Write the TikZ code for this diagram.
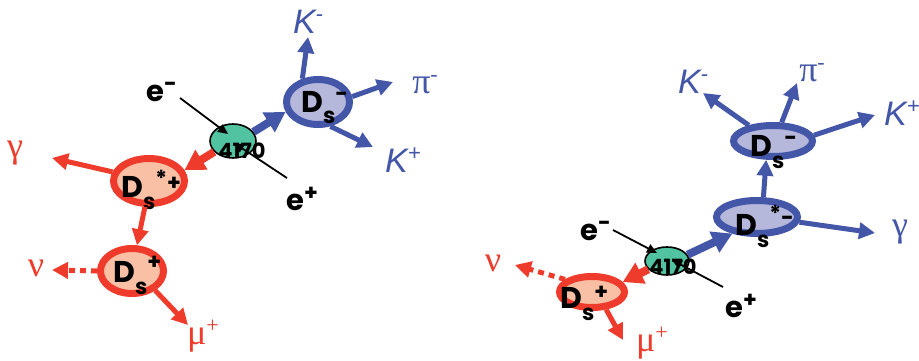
\documentclass[tikz,border=0pt]{standalone}
\usepackage{fontspec}
\setmainfont{Liberation Sans}
\newfontfamily\grk{Liberation Serif}
\newfontfamily\cmc{Poppins}
\usetikzlibrary{shapes.geometric,arrows.meta}
\definecolor{myblue}{RGB}{67,86,168}
\definecolor{lav}{RGB}{181,183,219}
\definecolor{myred}{RGB}{238,59,43}
\definecolor{salmon}{RGB}{249,192,166}
\definecolor{tealg}{RGB}{82,195,161}
\newcommand{\smallf}{\fontsize{22}{22}\selectfont}
\newcommand{\Dsl}[1]{D\raisebox{-12pt}{\smallf s}#1}
\newcommand{\up}[2]{\raisebox{#1pt}{\smallf #2}}
\begin{document}
\begin{tikzpicture}[x=1pt,y=-1pt,
  bel/.style={ellipse,draw=myblue,fill=lav,line width=7pt,inner sep=0pt},
  rel/.style={ellipse,draw=myred,fill=salmon,line width=7pt,inner sep=0pt},
  gre/.style={ellipse,draw=black,fill=tealg,line width=1.6pt,inner sep=0pt},
  dtxt/.style={font=\cmc\fontsize{30}{30}\selectfont\bfseries,inner sep=0pt,anchor=base west},
  etxt/.style={font=\cmc\fontsize{29}{29}\selectfont\bfseries,inner sep=0pt,anchor=base west},
  ntxt/.style={font=\cmc\fontsize{21}{21}\selectfont\bfseries,inner sep=0pt},
  ktxt/.style={font=\fontsize{34}{34}\selectfont\itshape,text=myblue,inner sep=0pt},
  gtxt/.style={font=\grk\fontsize{36}{36}\selectfont,inner sep=0pt},
  barr/.style={draw=myblue,line width=5pt,-{Triangle[length=16pt,width=16pt]}},
  bbig/.style={draw=myblue,line width=8pt,-{Triangle[length=20pt,width=22pt]}},
  rarr/.style={draw=myred,line width=5pt,-{Triangle[length=16pt,width=16pt]}},
  rbig/.style={draw=myred,line width=8pt,-{Triangle[length=20pt,width=22pt]}},
  rdash/.style={draw=myred,line width=5pt,dash pattern=on 6pt off 5pt,-{Triangle[length=16pt,width=16pt]}},
  earr/.style={draw=black,line width=1.8pt,-{Triangle[length=10pt,width=9pt]}}
]
\useasboundingbox (0,0) rectangle (919,361);

% ---------------- left diagram ----------------
\node[gre,minimum width=46pt,minimum height=34pt] (gL) at (233,141) {};
\node[ntxt] (nL) at (242,151) {4170};
\node[bel,minimum width=63pt,minimum height=45pt] (DsmL) at (318,102) {};
\node[rel,minimum width=71pt,minimum height=45pt] (DssL) at (149,181) {};
\node[rel,minimum width=63pt,minimum height=45pt] (DspL) at (132,271) {};

\node[dtxt] (tDsmL) at (301,112) {\Dsl{\up{10}{-}}};
\node[dtxt] (tDssL) at (121,197) {\Dsl{\up{11}{*}\up{7}{+}}};
\node[dtxt] (tDspL) at (113,282) {\Dsl{\up{13}{+}}};

\node[etxt] (emL) at (146,102) {e\up{10}{-}};
\node[etxt] (epL) at (286,210) {e\up{10}{+}};

\node[ktxt] (KmL) at (308,22) {K\up{12}{-}};
\node[gtxt,text=myblue] (piL) at (425,85) {π\up{12}{-}};
\node[ktxt] (KpL) at (403,160) {K\up{12}{+}};
\node[gtxt,text=myred] (gaL) at (15,153) {γ};
\node[gtxt,text=myred] (nuL) at (36,268) {ν};
\node[gtxt,text=myred] (muL) at (203,336) {μ\up{12}{+}};

\coordinate (cKmL) at (308,37);
\coordinate (cpiL) at (393,82);
\coordinate (cKpL) at (373,147);
\coordinate (cgaL) at (52,158);
\coordinate (cnuL) at (52,270);
\coordinate (cmuL) at (188,325);
\coordinate (e1aL) at (180,98);
\coordinate (e1bL) at (228,134);
\coordinate (e2aL) at (287,178);
\coordinate (e2bL) at (234,143);

\draw[bbig] (gL.24) -- (DsmL.197);
\draw[rbig] (gL.210) -- (DssL.17);
\draw[barr] (DsmL.124) -- (cKmL);
\draw[barr] (DsmL.9) -- (cpiL);
\draw[barr] (DsmL.-63) -- (cKpL);
\draw[rarr] (DssL.166) -- (cgaL);
\draw[rarr] (DssL.-99) -- (DspL.79);
\draw[rdash] (DspL.180) -- (cnuL);
\draw[rarr] (DspL.-40) -- (cmuL);
\draw[earr] (e1aL) -- (e1bL);
\draw[earr] (e2aL) -- (e2bL);

% ---------------- right diagram ----------------
\node[gre,minimum width=44pt,minimum height=28pt] (gR) at (667,261) {};
\node[ntxt] (nR) at (673,267) {4170};
\node[bel,minimum width=81pt,minimum height=33pt] (DssR) at (757,217) {};
\node[bel,minimum width=79pt,minimum height=31pt] (DsmR) at (773,141) {};
\node[rel,minimum width=65pt,minimum height=31pt] (DspR) at (592,292) {};

\node[dtxt] (tDsmR) at (750,157) {\Dsl{\up{12}{-}}};
\node[dtxt] (tDssR) at (735,235) {\Dsl{\up{14}{*}\up{10}{-}}};
\node[dtxt] (tDspR) at (560,308) {\Dsl{\up{9}{+}}};

\node[etxt] (emR) at (580,240) {e\up{10}{-}};
\node[etxt] (epR) at (725,317) {e\up{10}{+}};

\node[ktxt] (KmR) at (693,82) {K\up{12}{-}};
\node[gtxt,text=myblue] (piR) at (812,73) {π\up{12}{-}};
\node[ktxt] (KpR) at (902,113) {K\up{12}{+}};
\node[gtxt,text=myblue] (gaR) at (900,232) {γ};
\node[gtxt,text=myred] (nuR) at (493,263) {ν};
\node[gtxt,text=myred] (muR) at (652,343) {μ\up{12}{+}};

\coordinate (cKmR) at (703,93);
\coordinate (cpiR) at (797,83);
\coordinate (cKpR) at (875,115);
\coordinate (cgaR) at (875,233);
\coordinate (cnuR) at (515,265);
\coordinate (cmuR) at (623,340);
\coordinate (e1aR) at (613,230);
\coordinate (e1bR) at (657,253);
\coordinate (e2aR) at (723,287);
\coordinate (e2bR) at (672,260);

\draw[bbig] (gR.17) -- (DssR.214);
\draw[rbig] (gR.204) -- (DspR.18);
\draw[barr] (DssR.72) -- (DsmR.250);
\draw[barr] (DssR.-7) -- (cgaR);
\draw[barr] (DsmR.147) -- (cKmR);
\draw[barr] (DsmR.65) -- (cpiR);
\draw[barr] (DsmR.8) -- (cKpR);
\draw[rdash] (DspR.155) -- (cnuR);
\draw[rarr] (DspR.-51) -- (cmuR);
\draw[earr] (e1aR) -- (e1bR);
\draw[earr] (e2aR) -- (e2bR);
\end{tikzpicture}
\end{document}
